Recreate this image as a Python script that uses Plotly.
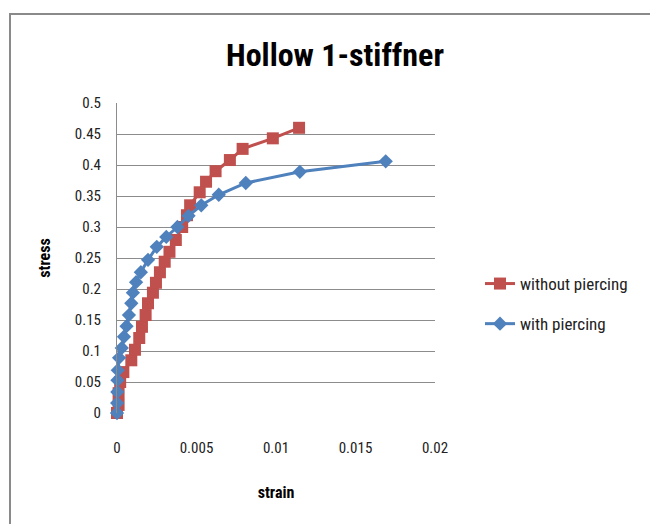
import plotly.graph_objects as go

title = "Hollow 1-stiffner"
x_label = "strain"
y_label = "stress"

without_strain = [0.0, 0.0001, 0.0001, 0.0002, 0.0004, 0.0009, 0.00113, 0.0014, 0.00157, 0.0018,
                  0.00195, 0.00226, 0.00245, 0.0027, 0.0030, 0.0033, 0.0037, 0.0041, 0.0044,
                  0.0046, 0.0052, 0.0056, 0.0062, 0.0071, 0.0079, 0.0098, 0.01145]
without_stress = [0.0, 0.013, 0.032, 0.050, 0.066, 0.085, 0.102, 0.121, 0.139, 0.158,
                  0.177, 0.194, 0.210, 0.227, 0.244, 0.260, 0.279, 0.300, 0.319,
                  0.335, 0.356, 0.373, 0.390, 0.408, 0.426, 0.443, 0.460]

with_strain = [0.0, 0.00001, 0.00002, 0.00003, 0.00005, 0.00013, 0.0003, 0.00044, 0.0006, 0.00075,
               0.0009, 0.0010, 0.0012, 0.0015, 0.00195, 0.0025, 0.0031, 0.0038, 0.0045,
               0.0053, 0.0064, 0.0081, 0.0115, 0.0169]
with_stress = [0.0, 0.016, 0.034, 0.053, 0.069, 0.089, 0.105, 0.123, 0.140, 0.158,
               0.177, 0.194, 0.211, 0.227, 0.247, 0.268, 0.284, 0.300, 0.318,
               0.335, 0.352, 0.371, 0.389, 0.406]

x_ticks = [0, 0.005, 0.01, 0.015, 0.02]
x_tick_text = ["0", "0.005", "0.01", "0.015", "0.02"]
y_ticks = [0, 0.05, 0.1, 0.15, 0.2, 0.25, 0.3, 0.35, 0.4, 0.45, 0.5]
y_tick_text = ["0", "0.05", "0.1", "0.15", "0.2", "0.25", "0.3", "0.35", "0.4", "0.45", "0.5"]

FONT = "Liberation Sans Narrow, Roboto Condensed, Liberation Sans, sans-serif"

fig = go.Figure()
fig.add_trace(go.Scatter(
    x=without_strain, y=without_stress, mode="lines+markers", name="without piercing",
    legendgroup="a", cliponaxis=False,
    line=dict(color="#C0504D", width=3),
    marker=dict(symbol="square", size=12, color="#C0504D"),
))
fig.add_trace(go.Scatter(
    x=with_strain, y=with_stress, mode="lines+markers", name="with piercing",
    legendgroup="b", cliponaxis=False,
    line=dict(color="#4F81BD", width=3),
    marker=dict(symbol="diamond", size=11, color="#4F81BD"),
))

fig.update_layout(
    width=650, height=524,
    margin=dict(l=117, r=215, t=103, b=111),
    paper_bgcolor="white", plot_bgcolor="white",
    font=dict(family=FONT, size=15, color="#222"),
    title=dict(text="<b>" + title + "</b>", x=335 / 650, xanchor="center",
               y=1 - 55 / 524, yanchor="middle",
               font=dict(family=FONT, size=32, color="black")),
    legend=dict(x=(480 - 117) / 318, y=(413 - 266) / 310, xanchor="left", yanchor="top",
                font=dict(family=FONT, size=17, color="#222"),
                tracegroupgap=15, itemwidth=30, bgcolor="rgba(0,0,0,0)"),
    xaxis=dict(range=[0, 0.02], tickvals=x_ticks, ticktext=x_tick_text, showgrid=False,
               zeroline=False, showline=False, ticks="", ticklabelstandoff=24,
               title=dict(text="<b>" + x_label + "</b>", standoff=30,
                          font=dict(family=FONT, size=16, color="black"))),
    yaxis=dict(range=[0, 0.5], tickvals=y_ticks, ticktext=y_tick_text, showgrid=True,
               gridcolor="#8c8c8c", gridwidth=1, zeroline=False, showline=True,
               linecolor="#8c8c8c", linewidth=1, ticks="", ticklabelstandoff=12,
               title=dict(text="<b>" + y_label + "</b>", standoff=20,
                          font=dict(family=FONT, size=16, color="black"))),
)

fig.add_shape(type="rect", xref="paper", yref="paper",
              x0=(10 - 117) / 318, x1=(700 - 117) / 318,
              y0=(413 - 560) / 310, y1=(413 - 14) / 310,
              line=dict(color="#8a8a8a", width=2), fillcolor="rgba(0,0,0,0)", layer="below")

fig.write_html("out.html")
